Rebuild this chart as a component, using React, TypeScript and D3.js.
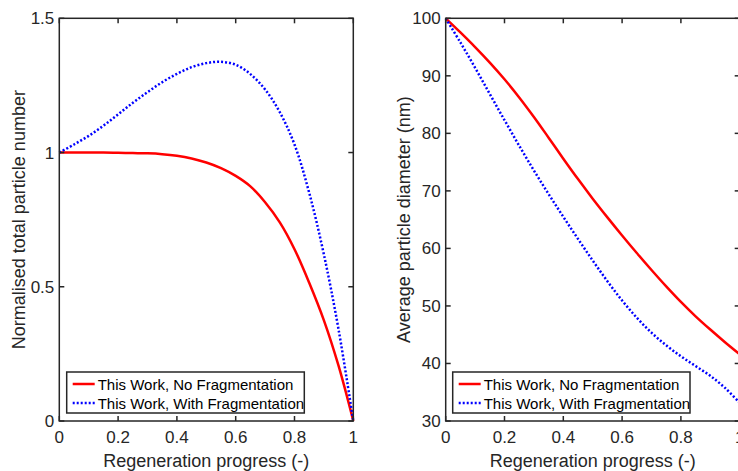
import * as d3 from 'd3';
import { useEffect, useRef } from 'react';

const progress = [0, 0.05, 0.1, 0.15, 0.2, 0.25, 0.3, 0.35, 0.4, 0.45, 0.5, 0.55, 0.6, 0.65, 0.7, 0.75, 0.8, 0.85, 0.9, 0.95, 1];

// left panel: normalised total particle number
const numberNoFrag = [1, 1, 1, 1, 0.999, 0.998, 0.997, 0.994, 0.988, 0.978, 0.963, 0.942, 0.913, 0.874, 0.815, 0.74, 0.64, 0.515, 0.375, 0.205, 0];
const numberWithFrag = [1, 1.03, 1.062, 1.1, 1.142, 1.185, 1.225, 1.262, 1.293, 1.318, 1.333, 1.338, 1.327, 1.292, 1.235, 1.15, 1.03, 0.85, 0.62, 0.34, 0];

// right panel: average particle diameter (nm)
const diamNoFrag = [100, 97.55, 95.0, 92.3, 89.4, 86.25, 82.85, 79.25, 75.6, 72.05, 68.65, 65.4, 62.25, 59.2, 56.25, 53.4, 50.7, 48.2, 45.9, 43.7, 41.6];
const diamWithFrag = [100, 95.8, 91.4, 86.85, 82.3, 77.85, 73.55, 69.45, 65.5, 61.65, 57.9, 54.3, 50.95, 47.95, 45.35, 43.15, 41.25, 39.55, 37.85, 35.75, 33.15];

const xTicks = [0, 0.2, 0.4, 0.6, 0.8, 1];
const numberTicks = [0, 0.5, 1, 1.5];
const diamTicks = [30, 40, 50, 60, 70, 80, 90, 100];
const legendLabels = ['This Work, No Fragmentation', 'This Work, With Fragmentation'];

const AX = '#262626';
const FONT = 'Arial, "Liberation Sans", Helvetica, sans-serif';

type Panel = {
  x0: number; x1: number; y0: number; y1: number;
  yDomain: [number, number]; yTicks: number[];
  yLabel: string; yLabelX: number;
  red: number[]; blue: number[];
  legX: number; legW: number;
};

function drawPanel(svg: d3.Selection<SVGSVGElement, unknown, null, undefined>, p: Panel) {
  const x = d3.scaleLinear().domain([0, 1]).range([p.x0, p.x1]);
  const y = d3.scaleLinear().domain(p.yDomain).range([p.y1, p.y0]);
  const g = svg.append('g');

  const line = d3.line<[number, number]>()
    .x(d => x(d[0])).y(d => y(d[1]))
    .curve(d3.curveCatmullRom.alpha(0.5));

  g.append('path').attr('d', line(progress.map((v, i) => [v, p.red[i]]) as [number, number][]))
    .attr('fill', 'none').attr('stroke', '#ff0000').attr('stroke-width', 2.5);
  g.append('path').attr('d', line(progress.map((v, i) => [v, p.blue[i]]) as [number, number][]))
    .attr('fill', 'none').attr('stroke', '#0000ff').attr('stroke-width', 2.5)
    .attr('stroke-dasharray', '2 2');

  // frame
  g.append('rect').attr('x', p.x0).attr('y', p.y0).attr('width', p.x1 - p.x0).attr('height', p.y1 - p.y0)
    .attr('fill', 'none').attr('stroke', AX).attr('stroke-width', 1.5);

  const tl = 5;
  xTicks.forEach(t => {
    g.append('line').attr('x1', x(t)).attr('x2', x(t)).attr('y1', p.y1).attr('y2', p.y1 - tl).attr('stroke', AX).attr('stroke-width', 1.5);
    g.append('line').attr('x1', x(t)).attr('x2', x(t)).attr('y1', p.y0).attr('y2', p.y0 + tl).attr('stroke', AX).attr('stroke-width', 1.5);
    g.append('text').attr('x', x(t)).attr('y', p.y1 + 22).attr('text-anchor', 'middle')
      .attr('font-family', FONT).attr('font-size', 17).attr('fill', AX).text(String(t));
  });
  p.yTicks.forEach(t => {
    g.append('line').attr('x1', p.x0).attr('x2', p.x0 + tl).attr('y1', y(t)).attr('y2', y(t)).attr('stroke', AX).attr('stroke-width', 1.5);
    g.append('line').attr('x1', p.x1).attr('x2', p.x1 - tl).attr('y1', y(t)).attr('y2', y(t)).attr('stroke', AX).attr('stroke-width', 1.5);
    g.append('text').attr('x', p.x0 - 5).attr('y', y(t) + 6).attr('text-anchor', 'end')
      .attr('font-family', FONT).attr('font-size', 17).attr('fill', AX).text(String(t));
  });

  g.append('text').attr('x', (p.x0 + p.x1) / 2).attr('y', 467).attr('text-anchor', 'middle')
    .attr('font-family', FONT).attr('font-size', 18).attr('fill', AX).text('Regeneration progress (-)');
  g.append('text').attr('transform', `translate(${p.yLabelX},${(p.y0 + p.y1) / 2}) rotate(-90)`)
    .attr('text-anchor', 'middle').attr('font-family', FONT).attr('font-size', 18).attr('fill', AX).text(p.yLabel);

  // legend
  const ly = 372, lh = 41;
  g.append('rect').attr('x', p.legX).attr('y', ly).attr('width', p.legW).attr('height', lh)
    .attr('fill', 'white').attr('stroke', AX).attr('stroke-width', 1.5);
  const rows = [
    { c: '#ff0000', dash: null as string | null, label: legendLabels[0], cy: 384 },
    { c: '#0000ff', dash: '2 2', label: legendLabels[1], cy: 403 },
  ];
  rows.forEach(r => {
    const ln = g.append('line').attr('x1', p.legX + 6).attr('x2', p.legX + 28).attr('y1', r.cy).attr('y2', r.cy)
      .attr('stroke', r.c).attr('stroke-width', 2.5);
    if (r.dash) ln.attr('stroke-dasharray', r.dash);
    g.append('text').attr('x', p.legX + 31).attr('y', r.cy + 5.5).attr('font-family', FONT).attr('font-size', 15)
      .attr('fill', '#000').text(r.label);
  });
}

function makeChart(el: SVGSVGElement) {
  const svg = d3.select(el);
  svg.selectAll('*').remove();
  drawPanel(svg, {
    x0: 59.3, x1: 353.3, y0: 18.3, y1: 421,
    yDomain: [0, 1.5], yTicks: numberTicks,
    yLabel: 'Normalised total particle number', yLabelX: 25,
    red: numberNoFrag, blue: numberWithFrag,
    legX: 66.7, legW: 237.6,
  });
  drawPanel(svg, {
    x0: 445.7, x1: 739.7, y0: 18.3, y1: 421,
    yDomain: [30, 100], yTicks: diamTicks,
    yLabel: 'Average particle diameter (nm)', yLabelX: 410,
    red: diamNoFrag, blue: diamWithFrag,
    legX: 452.7, legW: 237.3,
  });
}

export default function App() {
  const ref = useRef<SVGSVGElement>(null);
  useEffect(() => {
    if (ref.current) makeChart(ref.current);
  });
  return (
    <svg ref={ref} width={738} height={471}
      style={{ position: 'absolute', left: 0, top: 0, background: 'white' }} />
  );
}
